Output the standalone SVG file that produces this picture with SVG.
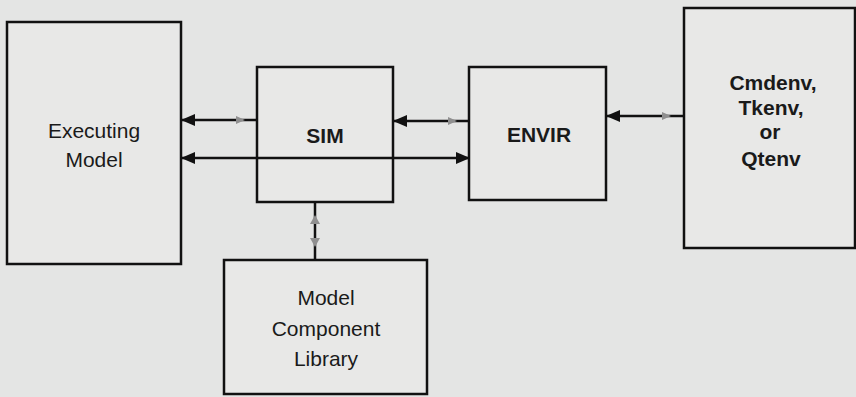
<svg xmlns="http://www.w3.org/2000/svg" width="856" height="397" viewBox="0 0 856 397">
  <defs>
    <marker id="head" viewBox="0 0 14 12" refX="13" refY="6" markerWidth="14" markerHeight="12" markerUnits="userSpaceOnUse" orient="auto">
      <path d="M0,0 L14,6 L0,12 Z" fill="#111"/>
    </marker>
    <marker id="tail" viewBox="0 0 14 12" refX="13" refY="6" markerWidth="14" markerHeight="12" markerUnits="userSpaceOnUse" orient="auto-start-reverse">
      <path d="M0,0 L14,6 L0,12 Z" fill="#111"/>
    </marker>
  </defs>
  <style>
    .box { fill: #e8e8e7; stroke: #111; stroke-width: 2.5; }
    .lbl { font-family: "Liberation Sans", Arial, sans-serif; font-size: 21px; fill: #1a1a1a; text-anchor: middle; }
    .bold { font-weight: bold; }
    .wire { stroke: #111; stroke-width: 2.5; fill: none; }
    .ghost { fill: #8f8f8f; }
  </style>
  <rect width="856" height="397" fill="#e4e5e4"/>

  <g id="executing-model">
    <rect class="box" x="7" y="22" width="174" height="242"/>
    <text class="lbl" x="94" y="138">Executing</text>
    <text class="lbl" x="94" y="167">Model</text>
  </g>

  <g id="sim">
    <rect class="box" x="257" y="67" width="136" height="135"/>
    <text class="lbl bold" x="325" y="143">SIM</text>
  </g>

  <g id="envir">
    <rect class="box" x="469" y="67" width="137" height="133"/>
    <text class="lbl bold" x="539" y="142">ENVIR</text>
  </g>

  <g id="user-interface">
    <rect class="box" x="684" y="8" width="171" height="240"/>
    <text class="lbl bold" x="773" y="90">Cmdenv,</text>
    <text class="lbl bold" x="771" y="115">Tkenv,</text>
    <text class="lbl bold" x="770" y="139">or</text>
    <text class="lbl bold" x="771" y="166">Qtenv</text>
  </g>

  <g id="model-component-library">
    <rect class="box" x="224" y="260" width="203" height="134"/>
    <text class="lbl" x="326" y="305">Model</text>
    <text class="lbl" x="326" y="336">Component</text>
    <text class="lbl" x="326" y="366">Library</text>
  </g>

  <g id="connectors">
    <!-- SIM to Executing Model -->
    <line class="wire" x1="257" y1="120" x2="182" y2="120" marker-end="url(#head)"/>
    <path class="ghost" d="M236,116 L245,120 L236,124 Z"/>
    <!-- Executing Model to ENVIR, passing through SIM -->
    <line class="wire" x1="182" y1="158" x2="469" y2="158" marker-start="url(#tail)" marker-end="url(#head)"/>
    <!-- ENVIR to SIM -->
    <line class="wire" x1="469" y1="121" x2="394" y2="121" marker-end="url(#head)"/>
    <path class="ghost" d="M448,117 L457,121 L448,125 Z"/>
    <!-- user interface to ENVIR -->
    <line class="wire" x1="684" y1="116" x2="607" y2="116" marker-end="url(#head)"/>
    <path class="ghost" d="M662,112 L671,116 L662,120 Z"/>
    <!-- SIM to library -->
    <line class="wire" x1="315" y1="202" x2="315" y2="260" stroke-width="3"/>
    <path class="ghost" d="M310,224 L315,215 L320,224 Z"/>
    <path class="ghost" d="M310,238 L315,247 L320,238 Z"/>
  </g>
</svg>
